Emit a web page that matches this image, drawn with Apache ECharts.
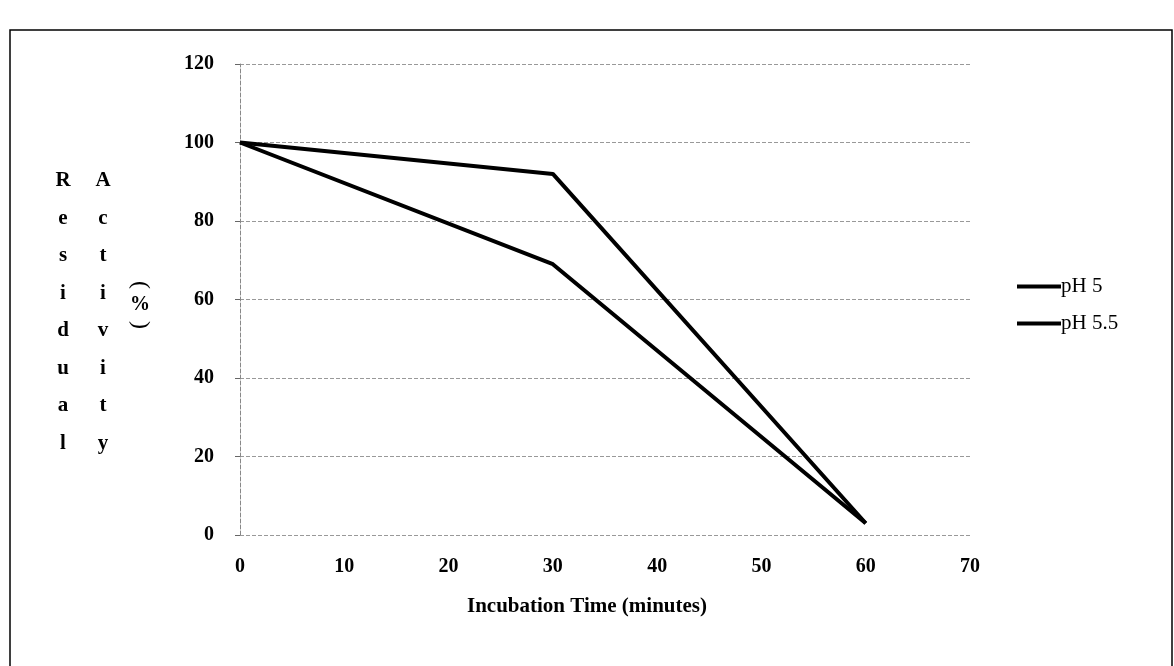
<!DOCTYPE html>
<html><head><meta charset="utf-8">
<script src="https://cdn.jsdelivr.net/npm/echarts@6/dist/echarts.min.js"></script>
<style>html,body{margin:0;padding:0;background:#fff}#c{width:1174px;height:666px}</style>
</head><body><div id="c"></div>
<script>
const times = [0, 30, 60];
const ph5 = [100, 92, 3];
const ph55 = [100, 69, 3];
const seriesNames = ['pH 5', 'pH 5.5'];
const xTitle = 'Incubation Time (minutes)';
const yWord1 = 'Residual';
const yWord2 = 'Activity';

const chart = echarts.init(document.getElementById('c'));
const serif = '"Liberation Serif", "Times New Roman", serif';
chart.setOption({
  backgroundColor: '#fff',
  animation: false,
  grid: {left: 240, right: 204, top: 64, bottom: 131},
  xAxis: {
    type: 'value', min: 0, max: 70, interval: 10,
    axisLine: {show: false},
    axisTick: {show: false},
    splitLine: {show: false},
    axisLabel: {color: '#000', fontFamily: serif, fontWeight: 'bold', fontSize: 20, margin: 22}
  },
  yAxis: {
    type: 'value', min: 0, max: 120, interval: 20,
    axisLine: {show: true, lineStyle: {color: '#888', type: 'dashed', width: 1}},
    axisTick: {show: true, length: 5, lineStyle: {color: '#666'}},
    splitLine: {show: true, lineStyle: {color: '#999', type: 'dashed', width: 1}},
    axisLabel: {color: '#000', fontFamily: serif, fontWeight: 'bold', fontSize: 20, margin: 26}
  },
  legend: {
    orient: 'vertical', left: 1012, top: 271, itemWidth: 44, itemHeight: 4, itemGap: 16,
    icon: 'rect',
    textStyle: {color: '#000', fontFamily: serif, fontSize: 21, padding: [0,0,0,-5]},
    data: seriesNames
  },
  series: [
    {name: seriesNames[0], type: 'line', showSymbol: false, data: times.map((t,i)=>[t, ph5[i]]),
     lineStyle: {color: '#000', width: 4}, itemStyle: {color: '#000'}},
    {name: seriesNames[1], type: 'line', showSymbol: false, data: times.map((t,i)=>[t, ph55[i]]),
     lineStyle: {color: '#000', width: 4}, itemStyle: {color: '#000'}}
  ],
  graphic: [
    {type: 'rect', shape: {x: 10, y: 30, width: 1162, height: 680}, style: {fill: 'none', stroke: '#000', lineWidth: 1.5}},
    {type: 'text', left: 'center', top: 596, style: {text: xTitle, font: 'bold 21px ' + serif, fill: '#000'}},
    {type: 'text', x: 63, y: 162, style: {text: yWord1.split('').join('\n'), font: 'bold 21px ' + serif, fill: '#000', lineHeight: 37.5, align: 'center'}},
    {type: 'text', x: 103, y: 162, style: {text: yWord2.split('').join('\n'), font: 'bold 21px ' + serif, fill: '#000', lineHeight: 37.5, align: 'center'}},
    {type: 'text', x: 140, y: 285, rotation: -Math.PI/2, style: {text: '(', font: '24px ' + serif, fill: '#000', align: 'center', verticalAlign: 'middle'}},
    {type: 'text', x: 140, y: 305, style: {text: '%', font: 'bold 20px ' + serif, fill: '#000', align: 'center', verticalAlign: 'middle'}},
    {type: 'text', x: 140, y: 325, rotation: -Math.PI/2, style: {text: ')', font: '24px ' + serif, fill: '#000', align: 'center', verticalAlign: 'middle'}}
  ]
});
</script></body></html>
